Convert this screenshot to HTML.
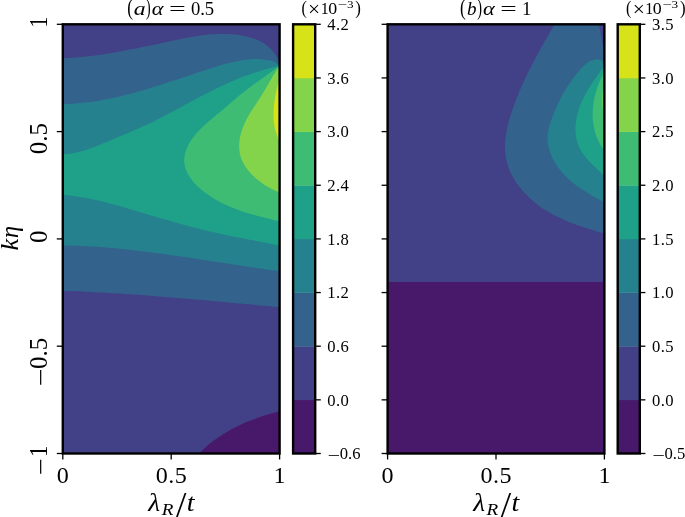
<!DOCTYPE html>
<html><head><meta charset="utf-8"><title>contour</title>
<style>html,body{margin:0;padding:0;background:#fff}svg{display:block}</style>
</head><body>
<svg width="685" height="517" viewBox="0 0 685 517">
<defs>
<clipPath id="cl"><rect x="62.80" y="24.30" width="216.80" height="429.20"/></clipPath>
<clipPath id="cr"><rect x="387.60" y="24.30" width="216.80" height="429.20"/></clipPath>
</defs>
<rect width="685" height="517" fill="#fff"/>
<g clip-path="url(#cl)">
<rect x="62.80" y="24.30" width="216.80" height="429.20" fill="#424086"/>
<path d="M199.00 453.50C199.79 452.73 202.14 450.39 203.76 448.90 C205.38 447.42 207.05 445.97 208.74 444.58 C210.43 443.18 212.16 441.82 213.92 440.51 C215.68 439.20 217.47 437.93 219.29 436.70 C221.11 435.48 222.96 434.29 224.83 433.15 C226.71 432.00 228.61 430.90 230.53 429.83 C232.45 428.77 234.40 427.74 236.37 426.76 C238.33 425.77 240.32 424.82 242.33 423.91 C244.33 423.00 246.36 422.12 248.40 421.29 C250.44 420.45 252.49 419.65 254.56 418.88 C256.62 418.11 258.71 417.38 260.80 416.69 C262.88 415.99 264.99 415.33 267.09 414.70 C269.20 414.06 271.31 413.47 273.43 412.90 C275.55 412.34 278.74 411.57 279.80 411.30L279.80 453.50Z" fill="#48186a"/>
<path d="M62.80 58.20C63.85 58.15 66.99 58.02 69.08 57.90 C71.17 57.78 73.26 57.63 75.35 57.47 C77.44 57.31 79.52 57.13 81.61 56.93 C83.69 56.73 85.78 56.52 87.86 56.28 C89.95 56.05 92.03 55.80 94.11 55.53 C96.19 55.27 98.27 54.98 100.34 54.69 C102.42 54.39 104.50 54.08 106.57 53.76 C108.65 53.44 110.72 53.10 112.79 52.76 C114.87 52.41 116.94 52.05 119.00 51.68 C121.07 51.31 123.14 50.94 125.21 50.55 C127.27 50.16 129.34 49.76 131.40 49.36 C133.46 48.96 135.53 48.55 137.59 48.13 C139.65 47.71 141.71 47.29 143.76 46.86 C145.82 46.43 147.88 46.00 149.93 45.56 C151.98 45.12 154.04 44.68 156.09 44.24 C158.14 43.80 160.19 43.35 162.24 42.91 C164.28 42.46 166.33 42.01 168.38 41.57 C170.42 41.12 172.46 40.67 174.51 40.24 C176.55 39.81 178.60 39.37 180.64 38.96 C182.69 38.54 184.73 38.14 186.79 37.75 C188.84 37.37 190.89 37.00 192.94 36.66 C195.00 36.32 197.06 35.99 199.13 35.70 C201.19 35.42 203.26 35.15 205.34 34.93 C207.42 34.70 209.50 34.50 211.59 34.35 C213.68 34.20 215.78 34.09 217.89 34.02 C220.00 33.95 222.11 33.93 224.24 33.96 C226.37 33.99 228.51 34.06 230.65 34.20 C232.79 34.34 234.95 34.53 237.09 34.79 C239.22 35.06 241.36 35.38 243.46 35.79 C245.55 36.20 247.64 36.68 249.66 37.26 C251.69 37.83 253.68 38.49 255.60 39.25 C257.52 40.02 259.40 40.87 261.18 41.84 C262.97 42.81 264.69 43.88 266.31 45.08 C267.92 46.27 269.47 47.58 270.88 49.03 C272.29 50.47 273.61 52.04 274.77 53.74 C275.92 55.44 276.97 57.26 277.81 59.22 C278.64 61.18 279.47 64.45 279.80 65.50L279.80 307.20C278.77 307.11 275.67 306.83 273.61 306.64 C271.54 306.45 269.48 306.26 267.42 306.08 C265.35 305.89 263.29 305.70 261.23 305.51 C259.16 305.32 257.10 305.13 255.03 304.94 C252.97 304.75 250.91 304.55 248.84 304.36 C246.78 304.17 244.71 303.98 242.65 303.79 C240.59 303.60 238.52 303.41 236.46 303.21 C234.39 303.02 232.33 302.83 230.26 302.64 C228.20 302.45 226.14 302.26 224.07 302.07 C222.01 301.88 219.94 301.69 217.88 301.50 C215.81 301.31 213.75 301.12 211.68 300.93 C209.62 300.74 207.55 300.56 205.49 300.37 C203.42 300.19 201.36 300.00 199.29 299.82 C197.23 299.63 195.16 299.45 193.10 299.27 C191.03 299.08 188.97 298.90 186.90 298.72 C184.84 298.55 182.77 298.37 180.71 298.19 C178.64 298.01 176.57 297.84 174.51 297.67 C172.44 297.49 170.38 297.32 168.31 297.15 C166.24 296.98 164.18 296.82 162.11 296.65 C160.05 296.48 157.98 296.32 155.91 296.16 C153.85 296.00 151.78 295.84 149.71 295.68 C147.65 295.52 145.58 295.37 143.51 295.22 C141.44 295.07 139.38 294.92 137.31 294.77 C135.24 294.62 133.17 294.48 131.11 294.34 C129.04 294.20 126.97 294.06 124.90 293.92 C122.83 293.79 120.77 293.65 118.70 293.52 C116.63 293.39 114.56 293.27 112.49 293.14 C110.42 293.02 108.35 292.90 106.28 292.78 C104.21 292.67 102.15 292.56 100.08 292.45 C98.01 292.34 95.94 292.23 93.87 292.13 C91.80 292.03 89.73 291.93 87.66 291.83 C85.59 291.74 83.51 291.65 81.44 291.56 C79.37 291.48 77.30 291.39 75.23 291.32 C73.16 291.24 71.09 291.16 69.02 291.09 C66.94 291.03 63.84 290.93 62.80 290.90Z" fill="#33638d"/>
<path d="M62.80 104.10C63.86 104.07 67.04 104.00 69.14 103.91 C71.25 103.81 73.35 103.69 75.44 103.54 C77.53 103.39 79.62 103.21 81.69 103.00 C83.77 102.80 85.84 102.56 87.90 102.31 C89.97 102.05 92.03 101.77 94.08 101.46 C96.13 101.16 98.17 100.83 100.21 100.48 C102.25 100.12 104.29 99.75 106.32 99.36 C108.35 98.97 110.37 98.55 112.39 98.12 C114.41 97.69 116.43 97.24 118.44 96.77 C120.45 96.30 122.46 95.82 124.47 95.32 C126.47 94.82 128.47 94.30 130.47 93.77 C132.47 93.24 134.46 92.69 136.45 92.14 C138.45 91.58 140.44 91.01 142.42 90.43 C144.41 89.85 146.40 89.26 148.38 88.66 C150.37 88.06 152.35 87.45 154.33 86.83 C156.31 86.21 158.29 85.58 160.27 84.95 C162.25 84.32 164.23 83.68 166.21 83.03 C168.18 82.39 170.16 81.74 172.14 81.09 C174.12 80.44 176.10 79.78 178.08 79.13 C180.06 78.47 182.04 77.81 184.02 77.15 C186.00 76.49 187.99 75.83 189.97 75.18 C191.96 74.52 193.94 73.86 195.93 73.21 C197.92 72.55 199.91 71.90 201.91 71.26 C203.90 70.61 205.90 69.97 207.90 69.33 C209.90 68.70 211.90 68.07 213.91 67.45 C215.91 66.83 217.93 66.20 219.94 65.61 C221.95 65.01 223.97 64.41 225.99 63.86 C228.01 63.30 230.04 62.76 232.07 62.27 C234.09 61.78 236.12 61.32 238.16 60.92 C240.19 60.52 242.22 60.16 244.26 59.88 C246.30 59.60 248.34 59.37 250.38 59.23 C252.42 59.09 254.46 59.02 256.50 59.05 C258.55 59.07 260.59 59.18 262.63 59.40 C264.68 59.62 266.75 59.90 268.77 60.36 C270.79 60.82 272.91 61.29 274.74 62.15 C276.58 63.01 278.96 64.94 279.80 65.50L279.80 271.00C278.77 270.87 275.67 270.47 273.61 270.20 C271.55 269.93 269.49 269.66 267.42 269.38 C265.36 269.10 263.30 268.82 261.24 268.53 C259.18 268.24 257.12 267.95 255.05 267.65 C252.99 267.36 250.93 267.06 248.87 266.76 C246.81 266.46 244.75 266.16 242.69 265.85 C240.63 265.54 238.57 265.23 236.51 264.92 C234.45 264.61 232.39 264.30 230.33 263.99 C228.27 263.67 226.21 263.36 224.15 263.04 C222.09 262.73 220.03 262.41 217.97 262.09 C215.91 261.78 213.85 261.46 211.79 261.14 C209.73 260.82 207.67 260.51 205.61 260.19 C203.55 259.87 201.49 259.56 199.43 259.24 C197.36 258.93 195.30 258.61 193.24 258.30 C191.18 257.99 189.12 257.68 187.06 257.37 C185.00 257.06 182.94 256.76 180.88 256.45 C178.81 256.15 176.75 255.85 174.69 255.55 C172.63 255.25 170.56 254.96 168.50 254.67 C166.44 254.38 164.37 254.09 162.31 253.80 C160.25 253.52 158.18 253.24 156.12 252.97 C154.05 252.69 151.99 252.42 149.92 252.16 C147.86 251.89 145.79 251.63 143.73 251.38 C141.66 251.12 139.59 250.87 137.53 250.63 C135.46 250.39 133.39 250.15 131.32 249.92 C129.25 249.69 127.18 249.47 125.11 249.25 C123.04 249.04 120.97 248.83 118.90 248.63 C116.83 248.43 114.76 248.23 112.69 248.05 C110.62 247.86 108.54 247.68 106.47 247.51 C104.40 247.35 102.32 247.18 100.25 247.03 C98.17 246.88 96.09 246.74 94.02 246.61 C91.94 246.48 89.86 246.35 87.78 246.24 C85.71 246.13 83.63 246.02 81.55 245.93 C79.47 245.84 77.39 245.76 75.30 245.69 C73.22 245.62 71.14 245.56 69.05 245.51 C66.97 245.46 63.84 245.42 62.80 245.40Z" fill="#26818e"/>
<path d="M62.80 154.10C63.85 154.02 67.01 153.88 69.08 153.64 C71.15 153.40 73.19 153.06 75.22 152.66 C77.24 152.27 79.24 151.78 81.22 151.25 C83.21 150.72 85.17 150.12 87.13 149.49 C89.08 148.85 91.02 148.16 92.95 147.44 C94.88 146.73 96.80 145.97 98.72 145.20 C100.63 144.43 102.54 143.64 104.45 142.84 C106.36 142.04 108.26 141.23 110.16 140.42 C112.07 139.61 113.97 138.79 115.87 137.98 C117.78 137.17 119.68 136.35 121.59 135.55 C123.50 134.74 125.41 133.95 127.32 133.15 C129.23 132.36 131.15 131.58 133.05 130.77 C134.96 129.97 136.86 129.17 138.76 128.34 C140.65 127.51 142.53 126.66 144.41 125.80 C146.29 124.93 148.15 124.05 150.01 123.15 C151.87 122.26 153.73 121.34 155.58 120.42 C157.42 119.50 159.27 118.56 161.10 117.61 C162.94 116.67 164.77 115.71 166.60 114.75 C168.43 113.79 170.25 112.81 172.08 111.84 C173.90 110.86 175.72 109.88 177.54 108.90 C179.36 107.92 181.18 106.93 182.99 105.94 C184.81 104.96 186.63 103.97 188.45 102.98 C190.26 102.00 192.08 101.01 193.90 100.04 C195.72 99.06 197.55 98.08 199.37 97.12 C201.20 96.15 203.03 95.19 204.86 94.24 C206.69 93.28 208.53 92.34 210.37 91.41 C212.22 90.48 214.06 89.56 215.92 88.65 C217.77 87.75 219.63 86.85 221.50 85.98 C223.37 85.11 225.25 84.24 227.13 83.40 C229.02 82.56 230.91 81.74 232.81 80.94 C234.71 80.13 236.62 79.35 238.54 78.58 C240.46 77.82 242.39 77.08 244.32 76.36 C246.25 75.63 248.20 74.93 250.15 74.25 C252.10 73.58 254.05 72.92 256.02 72.29 C257.98 71.66 259.96 71.05 261.94 70.47 C263.92 69.88 265.91 69.32 267.89 68.76 C269.88 68.21 271.87 67.67 273.86 67.13 C275.84 66.59 278.81 65.77 279.80 65.50L279.80 245.60C278.79 245.40 275.74 244.82 273.71 244.42 C271.68 244.03 269.65 243.64 267.62 243.25 C265.59 242.86 263.56 242.47 261.53 242.07 C259.51 241.68 257.48 241.28 255.45 240.89 C253.42 240.49 251.39 240.09 249.36 239.69 C247.34 239.29 245.31 238.88 243.28 238.48 C241.26 238.07 239.23 237.66 237.21 237.25 C235.18 236.83 233.16 236.41 231.13 235.99 C229.11 235.57 227.09 235.14 225.07 234.71 C223.05 234.27 221.03 233.84 219.01 233.39 C216.99 232.95 214.98 232.50 212.96 232.04 C210.95 231.58 208.93 231.12 206.92 230.65 C204.91 230.18 202.90 229.70 200.89 229.22 C198.88 228.73 196.88 228.24 194.87 227.73 C192.87 227.23 190.86 226.72 188.86 226.20 C186.86 225.68 184.87 225.15 182.87 224.61 C180.87 224.07 178.88 223.52 176.89 222.97 C174.90 222.41 172.91 221.85 170.92 221.28 C168.93 220.71 166.94 220.14 164.95 219.56 C162.97 218.98 160.98 218.40 159.00 217.81 C157.01 217.23 155.03 216.64 153.05 216.05 C151.06 215.46 149.08 214.87 147.10 214.27 C145.11 213.68 143.13 213.09 141.15 212.50 C139.17 211.91 137.19 211.31 135.20 210.73 C133.22 210.14 131.24 209.55 129.25 208.97 C127.27 208.39 125.29 207.81 123.30 207.24 C121.32 206.67 119.33 206.10 117.34 205.54 C115.35 204.98 113.37 204.43 111.37 203.89 C109.38 203.36 107.39 202.83 105.39 202.32 C103.39 201.81 101.40 201.31 99.39 200.84 C97.39 200.36 95.38 199.90 93.37 199.47 C91.36 199.03 89.34 198.62 87.32 198.23 C85.30 197.84 83.28 197.48 81.25 197.14 C79.22 196.81 77.18 196.50 75.14 196.23 C73.09 195.96 71.05 195.71 68.99 195.51 C66.93 195.30 63.83 195.08 62.80 195.00Z" fill="#1fa088"/>
<path d="M279.80 65.50C278.98 66.11 276.52 67.95 274.87 69.16 C273.23 70.38 271.57 71.58 269.91 72.78 C268.25 73.99 266.59 75.19 264.92 76.39 C263.26 77.59 261.60 78.79 259.93 79.99 C258.27 81.20 256.61 82.40 254.96 83.62 C253.30 84.83 251.65 86.05 250.01 87.28 C248.37 88.51 246.73 89.75 245.10 91.00 C243.48 92.25 241.86 93.51 240.26 94.80 C238.66 96.08 237.07 97.37 235.50 98.69 C233.93 100.00 232.38 101.35 230.83 102.69 C229.28 104.03 227.75 105.40 226.20 106.74 C224.65 108.07 223.10 109.40 221.54 110.72 C219.98 112.03 218.41 113.32 216.84 114.62 C215.27 115.92 213.70 117.21 212.14 118.52 C210.58 119.83 209.02 121.14 207.49 122.48 C205.96 123.83 204.43 125.19 202.95 126.61 C201.46 128.02 199.98 129.47 198.57 130.98 C197.15 132.49 195.76 134.05 194.46 135.68 C193.16 137.31 191.91 139.01 190.78 140.77 C189.66 142.53 188.60 144.37 187.72 146.24 C186.83 148.11 186.05 150.05 185.48 151.99 C184.91 153.93 184.48 155.92 184.30 157.89 C184.13 159.86 184.15 161.86 184.41 163.82 C184.66 165.77 185.16 167.73 185.83 169.61 C186.51 171.49 187.42 173.33 188.45 175.09 C189.48 176.86 190.72 178.56 192.02 180.19 C193.31 181.82 194.77 183.39 196.23 184.89 C197.70 186.39 199.24 187.82 200.81 189.18 C202.37 190.55 203.98 191.85 205.62 193.09 C207.26 194.33 208.94 195.50 210.65 196.62 C212.36 197.75 214.11 198.81 215.88 199.83 C217.65 200.85 219.45 201.81 221.27 202.73 C223.09 203.65 224.95 204.52 226.82 205.36 C228.68 206.19 230.58 206.98 232.49 207.74 C234.39 208.50 236.32 209.21 238.26 209.90 C240.20 210.59 242.16 211.25 244.12 211.88 C246.09 212.52 248.06 213.12 250.04 213.71 C252.02 214.29 254.02 214.85 256.00 215.40 C257.99 215.95 259.99 216.48 261.98 217.00 C263.97 217.52 265.97 218.03 267.96 218.53 C269.94 219.03 271.93 219.52 273.90 220.02 C275.88 220.51 278.82 221.25 279.80 221.50Z" fill="#3fbc73"/>
<path d="M279.80 65.50C279.21 66.37 277.42 68.95 276.28 70.70 C275.14 72.46 274.04 74.25 272.96 76.04 C271.87 77.83 270.82 79.65 269.76 81.45 C268.71 83.26 267.67 85.08 266.62 86.88 C265.56 88.68 264.51 90.48 263.44 92.26 C262.37 94.04 261.28 95.81 260.18 97.57 C259.08 99.33 257.97 101.08 256.84 102.82 C255.71 104.56 254.55 106.29 253.42 108.03 C252.28 109.78 251.13 111.51 250.03 113.29 C248.94 115.07 247.86 116.87 246.87 118.73 C245.87 120.59 244.93 122.50 244.09 124.45 C243.25 126.40 242.48 128.40 241.83 130.42 C241.18 132.43 240.62 134.49 240.19 136.54 C239.77 138.59 239.45 140.67 239.30 142.72 C239.14 144.77 239.10 146.83 239.24 148.85 C239.38 150.86 239.66 152.87 240.13 154.83 C240.60 156.78 241.25 158.70 242.05 160.56 C242.86 162.42 243.85 164.24 244.95 166.00 C246.06 167.75 247.32 169.46 248.68 171.09 C250.03 172.73 251.52 174.31 253.07 175.81 C254.62 177.32 256.28 178.76 257.98 180.12 C259.68 181.48 261.46 182.78 263.26 183.98 C265.06 185.19 266.91 186.32 268.76 187.36 C270.60 188.39 272.48 189.35 274.32 190.21 C276.16 191.06 278.89 192.12 279.80 192.50Z" fill="#84d44b"/>
<path d="M279.80 77.00C279.55 77.94 278.79 80.75 278.31 82.67 C277.82 84.58 277.34 86.53 276.90 88.48 C276.46 90.44 276.03 92.42 275.65 94.41 C275.27 96.40 274.92 98.41 274.62 100.41 C274.33 102.42 274.08 104.44 273.90 106.46 C273.72 108.47 273.59 110.49 273.54 112.50 C273.49 114.51 273.51 116.52 273.62 118.52 C273.74 120.51 273.93 122.50 274.22 124.46 C274.52 126.42 274.90 128.37 275.40 130.29 C275.90 132.22 276.50 134.12 277.24 135.99 C277.97 137.85 279.37 140.58 279.80 141.50Z" fill="#d8e219"/>
</g>
<g clip-path="url(#cr)">
<rect x="387.60" y="24.30" width="216.80" height="429.20" fill="#424086"/>
<path d="M387.60 281.90 H605.40 V454.50 H387.60 Z" fill="#48186a"/>
<path d="M554.60 24.30C554.07 25.21 552.46 27.95 551.40 29.78 C550.34 31.60 549.28 33.41 548.23 35.23 C547.18 37.04 546.14 38.86 545.11 40.67 C544.08 42.48 543.05 44.29 542.04 46.11 C541.02 47.92 540.02 49.73 539.02 51.55 C538.02 53.37 537.04 55.19 536.06 57.01 C535.08 58.83 534.12 60.66 533.17 62.49 C532.21 64.32 531.27 66.16 530.34 68.01 C529.41 69.85 528.49 71.70 527.59 73.56 C526.69 75.43 525.80 77.29 524.92 79.17 C524.04 81.06 523.18 82.94 522.33 84.85 C521.49 86.75 520.65 88.66 519.84 90.59 C519.02 92.51 518.22 94.45 517.44 96.41 C516.66 98.36 515.89 100.33 515.14 102.32 C514.39 104.30 513.66 106.31 512.95 108.32 C512.24 110.34 511.55 112.37 510.91 114.41 C510.26 116.46 509.64 118.51 509.07 120.57 C508.51 122.62 507.97 124.69 507.51 126.76 C507.04 128.82 506.62 130.90 506.27 132.96 C505.93 135.03 505.63 137.10 505.43 139.16 C505.22 141.22 505.08 143.27 505.04 145.32 C504.99 147.36 505.02 149.40 505.16 151.42 C505.30 153.44 505.52 155.45 505.86 157.44 C506.19 159.43 506.64 161.40 507.19 163.35 C507.74 165.30 508.40 167.23 509.16 169.13 C509.91 171.04 510.77 172.91 511.71 174.76 C512.65 176.60 513.69 178.42 514.80 180.20 C515.90 181.97 517.10 183.72 518.35 185.42 C519.61 187.12 520.94 188.79 522.33 190.40 C523.71 192.02 525.17 193.59 526.66 195.11 C528.16 196.64 529.71 198.11 531.30 199.53 C532.89 200.95 534.52 202.32 536.19 203.63 C537.85 204.93 539.55 206.18 541.27 207.38 C542.99 208.58 544.75 209.72 546.53 210.82 C548.31 211.91 550.11 212.96 551.94 213.96 C553.77 214.96 555.62 215.92 557.49 216.83 C559.36 217.75 561.26 218.63 563.16 219.47 C565.07 220.31 567.00 221.12 568.93 221.90 C570.87 222.67 572.82 223.42 574.78 224.14 C576.75 224.86 578.72 225.54 580.70 226.22 C582.68 226.89 584.67 227.53 586.65 228.17 C588.64 228.80 590.64 229.41 592.64 230.01 C594.63 230.62 596.63 231.20 598.62 231.78 C600.62 232.36 603.60 233.21 604.60 233.50L604.60 52.00C604.48 51.59 604.09 50.36 603.86 49.54 C603.62 48.71 603.41 47.88 603.21 47.05 C603.00 46.22 602.82 45.38 602.64 44.54 C602.45 43.71 602.29 42.86 602.12 42.02 C601.96 41.18 601.81 40.33 601.66 39.49 C601.50 38.64 601.36 37.80 601.21 36.95 C601.07 36.10 600.93 35.25 600.78 34.41 C600.63 33.56 600.49 32.71 600.34 31.87 C600.19 31.02 600.04 30.17 599.87 29.33 C599.71 28.49 599.55 27.65 599.37 26.81 C599.19 25.97 598.89 24.72 598.80 24.30Z" fill="#33638d"/>
<path d="M604.60 63.00C603.69 62.42 601.00 60.05 599.16 59.50 C597.31 58.94 595.38 59.21 593.53 59.68 C591.69 60.15 589.83 61.23 588.09 62.35 C586.36 63.47 584.71 64.92 583.14 66.40 C581.57 67.89 580.09 69.58 578.66 71.26 C577.24 72.94 575.89 74.76 574.57 76.50 C573.26 78.25 572.00 80.00 570.77 81.73 C569.55 83.46 568.37 85.15 567.24 86.88 C566.11 88.61 565.02 90.33 563.99 92.11 C562.96 93.89 561.99 95.71 561.04 97.56 C560.09 99.42 559.20 101.32 558.31 103.24 C557.42 105.15 556.54 107.09 555.68 109.05 C554.83 111.00 553.98 112.98 553.19 114.97 C552.40 116.96 551.63 118.98 550.95 121.01 C550.27 123.04 549.61 125.09 549.11 127.14 C548.60 129.20 548.17 131.27 547.91 133.35 C547.66 135.43 547.52 137.52 547.59 139.60 C547.66 141.68 547.91 143.78 548.31 145.84 C548.71 147.91 549.29 149.98 549.97 151.99 C550.66 154.00 551.50 155.99 552.42 157.91 C553.35 159.82 554.39 161.69 555.50 163.49 C556.61 165.29 557.82 167.02 559.09 168.70 C560.36 170.37 561.72 171.98 563.14 173.55 C564.55 175.11 566.04 176.61 567.57 178.06 C569.11 179.51 570.71 180.91 572.34 182.27 C573.98 183.62 575.67 184.93 577.39 186.19 C579.10 187.46 580.86 188.68 582.64 189.86 C584.42 191.05 586.23 192.19 588.05 193.30 C589.87 194.41 591.71 195.49 593.55 196.54 C595.39 197.59 597.25 198.60 599.09 199.60 C600.93 200.59 603.68 202.02 604.60 202.50Z" fill="#26818e"/>
<path d="M604.60 65.50C603.99 66.35 602.15 68.89 600.92 70.61 C599.69 72.32 598.44 74.05 597.21 75.80 C595.98 77.55 594.74 79.31 593.54 81.09 C592.34 82.87 591.15 84.68 590.00 86.50 C588.85 88.33 587.73 90.17 586.66 92.04 C585.60 93.91 584.57 95.81 583.61 97.73 C582.65 99.66 581.74 101.61 580.92 103.59 C580.10 105.57 579.34 107.58 578.68 109.63 C578.01 111.67 577.43 113.76 576.95 115.86 C576.48 117.97 576.09 120.12 575.83 122.26 C575.58 124.40 575.42 126.57 575.41 128.70 C575.40 130.84 575.50 132.99 575.76 135.08 C576.02 137.17 576.42 139.25 576.98 141.26 C577.54 143.27 578.27 145.24 579.15 147.14 C580.03 149.03 581.10 150.86 582.26 152.63 C583.43 154.41 584.75 156.12 586.12 157.79 C587.50 159.46 589.00 161.07 590.51 162.66 C592.02 164.24 593.62 165.77 595.20 167.28 C596.77 168.79 598.40 170.26 599.97 171.71 C601.53 173.16 603.83 175.29 604.60 176.00Z" fill="#1fa088"/>
<path d="M604.60 72.00C604.05 73.01 602.34 75.99 601.33 78.06 C600.31 80.13 599.37 82.26 598.51 84.43 C597.66 86.60 596.88 88.81 596.20 91.05 C595.52 93.29 594.92 95.57 594.43 97.86 C593.93 100.15 593.53 102.47 593.24 104.78 C592.95 107.10 592.75 109.44 592.67 111.76 C592.59 114.08 592.62 116.42 592.77 118.72 C592.92 121.03 593.18 123.33 593.57 125.60 C593.96 127.87 594.46 130.13 595.11 132.34 C595.75 134.55 596.52 136.73 597.43 138.86 C598.35 140.99 599.39 143.08 600.58 145.10 C601.78 147.13 603.93 150.02 604.60 151.00Z" fill="#3fbc73"/>
<path d="M604.60 84.00C604.48 84.49 604.08 85.95 603.86 86.94 C603.63 87.93 603.44 88.92 603.26 89.92 C603.09 90.91 602.94 91.92 602.82 92.92 C602.69 93.92 602.59 94.93 602.52 95.94 C602.44 96.95 602.39 97.97 602.37 98.98 C602.34 99.99 602.34 101.01 602.37 102.02 C602.39 103.03 602.44 104.05 602.51 105.06 C602.59 106.07 602.69 107.08 602.81 108.08 C602.94 109.08 603.08 110.09 603.26 111.08 C603.43 112.08 603.63 113.07 603.85 114.06 C604.08 115.05 604.48 116.51 604.60 117.00Z" fill="#84d44b"/>
</g>
<rect x="293.10" y="399.85" width="22.10" height="53.95" fill="#48186a"/>
<rect x="293.10" y="346.20" width="22.10" height="53.95" fill="#424086"/>
<rect x="293.10" y="292.55" width="22.10" height="53.95" fill="#33638d"/>
<rect x="293.10" y="238.90" width="22.10" height="53.95" fill="#26818e"/>
<rect x="293.10" y="185.25" width="22.10" height="53.95" fill="#1fa088"/>
<rect x="293.10" y="131.60" width="22.10" height="53.95" fill="#3fbc73"/>
<rect x="293.10" y="77.95" width="22.10" height="53.95" fill="#84d44b"/>
<rect x="293.10" y="24.30" width="22.10" height="53.95" fill="#d8e219"/>
<path d="M315.20 453.50H320.80" stroke="#000" stroke-width="1.30"/>
<path d="M315.20 399.85H320.80" stroke="#000" stroke-width="1.30"/>
<path d="M315.20 346.20H320.80" stroke="#000" stroke-width="1.30"/>
<path d="M315.20 292.55H320.80" stroke="#000" stroke-width="1.30"/>
<path d="M315.20 238.90H320.80" stroke="#000" stroke-width="1.30"/>
<path d="M315.20 185.25H320.80" stroke="#000" stroke-width="1.30"/>
<path d="M315.20 131.60H320.80" stroke="#000" stroke-width="1.30"/>
<path d="M315.20 77.95H320.80" stroke="#000" stroke-width="1.30"/>
<path d="M315.20 24.30H320.80" stroke="#000" stroke-width="1.30"/>
<rect x="293.10" y="24.30" width="22.10" height="429.20" fill="none" stroke="#000" stroke-width="2.40"/>
<rect x="617.70" y="399.85" width="22.10" height="53.95" fill="#48186a"/>
<rect x="617.70" y="346.20" width="22.10" height="53.95" fill="#424086"/>
<rect x="617.70" y="292.55" width="22.10" height="53.95" fill="#33638d"/>
<rect x="617.70" y="238.90" width="22.10" height="53.95" fill="#26818e"/>
<rect x="617.70" y="185.25" width="22.10" height="53.95" fill="#1fa088"/>
<rect x="617.70" y="131.60" width="22.10" height="53.95" fill="#3fbc73"/>
<rect x="617.70" y="77.95" width="22.10" height="53.95" fill="#84d44b"/>
<rect x="617.70" y="24.30" width="22.10" height="53.95" fill="#d8e219"/>
<path d="M639.80 453.50H645.40" stroke="#000" stroke-width="1.30"/>
<path d="M639.80 399.85H645.40" stroke="#000" stroke-width="1.30"/>
<path d="M639.80 346.20H645.40" stroke="#000" stroke-width="1.30"/>
<path d="M639.80 292.55H645.40" stroke="#000" stroke-width="1.30"/>
<path d="M639.80 238.90H645.40" stroke="#000" stroke-width="1.30"/>
<path d="M639.80 185.25H645.40" stroke="#000" stroke-width="1.30"/>
<path d="M639.80 131.60H645.40" stroke="#000" stroke-width="1.30"/>
<path d="M639.80 77.95H645.40" stroke="#000" stroke-width="1.30"/>
<path d="M639.80 24.30H645.40" stroke="#000" stroke-width="1.30"/>
<rect x="617.70" y="24.30" width="22.10" height="429.20" fill="none" stroke="#000" stroke-width="2.40"/>
<path d="M56.80 24.30H62.80" stroke="#000" stroke-width="1.30"/>
<path d="M56.80 131.60H62.80" stroke="#000" stroke-width="1.30"/>
<path d="M56.80 238.90H62.80" stroke="#000" stroke-width="1.30"/>
<path d="M56.80 346.20H62.80" stroke="#000" stroke-width="1.30"/>
<path d="M56.80 453.50H62.80" stroke="#000" stroke-width="1.30"/>
<path d="M62.80 453.50V459.50" stroke="#000" stroke-width="1.30"/>
<path d="M171.20 453.50V459.50" stroke="#000" stroke-width="1.30"/>
<path d="M279.60 453.50V459.50" stroke="#000" stroke-width="1.30"/>
<rect x="62.80" y="24.30" width="216.80" height="429.20" fill="none" stroke="#000" stroke-width="2.40"/>
<path d="M381.60 24.30H387.60" stroke="#000" stroke-width="1.30"/>
<path d="M381.60 77.95H387.60" stroke="#000" stroke-width="1.30"/>
<path d="M381.60 131.60H387.60" stroke="#000" stroke-width="1.30"/>
<path d="M381.60 185.25H387.60" stroke="#000" stroke-width="1.30"/>
<path d="M381.60 238.90H387.60" stroke="#000" stroke-width="1.30"/>
<path d="M381.60 292.55H387.60" stroke="#000" stroke-width="1.30"/>
<path d="M381.60 346.20H387.60" stroke="#000" stroke-width="1.30"/>
<path d="M381.60 399.85H387.60" stroke="#000" stroke-width="1.30"/>
<path d="M381.60 453.50H387.60" stroke="#000" stroke-width="1.30"/>
<path d="M387.60 453.50V459.50" stroke="#000" stroke-width="1.30"/>
<path d="M496.00 453.50V459.50" stroke="#000" stroke-width="1.30"/>
<path d="M604.40 453.50V459.50" stroke="#000" stroke-width="1.30"/>
<rect x="387.60" y="24.30" width="216.80" height="429.20" fill="none" stroke="#000" stroke-width="2.40"/>
<g font-family="'Liberation Serif', 'DejaVu Serif', serif" fill="#000">
<text x="63.05" y="483.0" font-size="24.1" letter-spacing="0.5" text-anchor="middle">0</text>
<text x="171.45" y="483.0" font-size="24.1" letter-spacing="0.5" text-anchor="middle">0.5</text>
<text x="279.85" y="483.0" font-size="24.1" letter-spacing="0.5" text-anchor="middle">1</text>
<text y="510.8"><tspan x="148.38" font-size="24.20" font-style="italic" textLength="11.85" lengthAdjust="spacingAndGlyphs">λ</tspan><tspan x="161.80" font-size="16.60" y="514.80" font-style="italic" textLength="11.71" lengthAdjust="spacingAndGlyphs">R</tspan><tspan x="176.00" font-size="35.10" y="516.90" textLength="10.41" lengthAdjust="spacingAndGlyphs">/</tspan><tspan x="186.84" font-size="26.20" y="510.90" font-style="italic" textLength="7.78" lengthAdjust="spacingAndGlyphs">t</tspan></text>
<text x="387.85" y="483.0" font-size="24.1" letter-spacing="0.5" text-anchor="middle">0</text>
<text x="496.25" y="483.0" font-size="24.1" letter-spacing="0.5" text-anchor="middle">0.5</text>
<text x="604.65" y="483.0" font-size="24.1" letter-spacing="0.5" text-anchor="middle">1</text>
<text y="510.8"><tspan x="473.18" font-size="24.20" font-style="italic" textLength="11.85" lengthAdjust="spacingAndGlyphs">λ</tspan><tspan x="486.60" font-size="16.60" y="514.80" font-style="italic" textLength="11.71" lengthAdjust="spacingAndGlyphs">R</tspan><tspan x="500.80" font-size="35.10" y="516.90" textLength="10.41" lengthAdjust="spacingAndGlyphs">/</tspan><tspan x="511.64" font-size="26.20" y="510.90" font-style="italic" textLength="7.78" lengthAdjust="spacingAndGlyphs">t</tspan></text>
<text transform="translate(47.00 64.30) rotate(-90)" y="0"><tspan x="36.48" font-size="25.00" textLength="11.21" lengthAdjust="spacingAndGlyphs">1</tspan></text>
<text transform="translate(47.00 171.60) rotate(-90)" y="0"><tspan x="17.25" font-size="25.00">0.5</tspan></text>
<text transform="translate(47.00 278.90) rotate(-90)" y="0"><tspan x="35.90" font-size="25.00">0</tspan></text>
<text transform="translate(47.00 386.20) rotate(-90)" y="0"><tspan x="-0.20" font-size="25.00" y="1.70" textLength="18.07" lengthAdjust="spacingAndGlyphs">−</tspan><tspan x="17.25" font-size="25.00" y="0.00">0.5</tspan></text>
<text transform="translate(47.00 493.50) rotate(-90)" y="0"><tspan x="18.29" font-size="25.00" y="1.70" textLength="16.98" lengthAdjust="spacingAndGlyphs">−</tspan><tspan x="36.47" font-size="25.00" y="0.00" textLength="11.29" lengthAdjust="spacingAndGlyphs">1</tspan></text>
<text transform="translate(17.8 260.00) rotate(-90)" y="0"><tspan x="9.40" font-size="25.00" font-style="italic" textLength="11.77" lengthAdjust="spacingAndGlyphs">k</tspan><tspan x="21.82" font-size="25.00" font-style="italic" textLength="12.40" lengthAdjust="spacingAndGlyphs">η</tspan></text>
<text y="14.6"><tspan x="127.22" font-size="22.50" y="14.80" textLength="5.75" lengthAdjust="spacingAndGlyphs">(</tspan><tspan x="133.89" font-size="18.60" y="14.60" font-style="italic" textLength="11.86" lengthAdjust="spacingAndGlyphs">a</tspan><tspan x="145.88" font-size="22.50" y="14.80" textLength="4.61" lengthAdjust="spacingAndGlyphs">)</tspan><tspan x="151.73" font-size="18.60" y="14.60" font-style="italic" textLength="11.73" lengthAdjust="spacingAndGlyphs">α</tspan><tspan x="168.92" font-size="18.60" textLength="16.74" lengthAdjust="spacingAndGlyphs">=</tspan><tspan x="190.90" font-size="18.60">0.5</tspan></text>
<text y="14.6"><tspan x="460.12" font-size="22.50" y="14.80" textLength="5.75" lengthAdjust="spacingAndGlyphs">(</tspan><tspan x="467.04" font-size="18.60" y="14.60" font-style="italic" textLength="9.53" lengthAdjust="spacingAndGlyphs">b</tspan><tspan x="477.27" font-size="22.50" y="14.80" textLength="4.74" lengthAdjust="spacingAndGlyphs">)</tspan><tspan x="482.93" font-size="18.60" y="14.60" font-style="italic" textLength="11.73" lengthAdjust="spacingAndGlyphs">α</tspan><tspan x="500.34" font-size="18.60" textLength="16.50" lengthAdjust="spacingAndGlyphs">=</tspan><tspan x="522.00" font-size="18.60" textLength="9.43" lengthAdjust="spacingAndGlyphs">1</tspan></text>
<text y="459.25"><tspan x="327.59" font-size="16.60" y="460.55" textLength="12.49" lengthAdjust="spacingAndGlyphs">−</tspan><tspan x="339.80" font-size="16.60" y="459.25">0.6</tspan></text>
<text x="327.20" y="405.60" font-size="16.6" letter-spacing="0.45">0.0</text>
<text x="327.20" y="351.95" font-size="16.6" letter-spacing="0.45">0.6</text>
<text x="327.20" y="298.30" font-size="16.6" letter-spacing="0.45">1.2</text>
<text x="327.20" y="244.65" font-size="16.6" letter-spacing="0.45">1.8</text>
<text x="327.20" y="191.00" font-size="16.6" letter-spacing="0.45">2.4</text>
<text x="327.20" y="137.35" font-size="16.6" letter-spacing="0.45">3.0</text>
<text x="327.20" y="83.70" font-size="16.6" letter-spacing="0.45">3.6</text>
<text x="327.20" y="30.05" font-size="16.6" letter-spacing="0.45">4.2</text>
<text y="459.25"><tspan x="652.29" font-size="16.60" y="460.55" textLength="12.49" lengthAdjust="spacingAndGlyphs">−</tspan><tspan x="664.50" font-size="16.60" y="459.25">0.5</tspan></text>
<text x="651.90" y="405.60" font-size="16.6" letter-spacing="0.45">0.0</text>
<text x="651.90" y="351.95" font-size="16.6" letter-spacing="0.45">0.5</text>
<text x="651.90" y="298.30" font-size="16.6" letter-spacing="0.45">1.0</text>
<text x="651.90" y="244.65" font-size="16.6" letter-spacing="0.45">1.5</text>
<text x="651.90" y="191.00" font-size="16.6" letter-spacing="0.45">2.0</text>
<text x="651.90" y="137.35" font-size="16.6" letter-spacing="0.45">2.5</text>
<text x="651.90" y="83.70" font-size="16.6" letter-spacing="0.45">3.0</text>
<text x="651.90" y="30.05" font-size="16.6" letter-spacing="0.45">3.5</text>
<text y="13.6"><tspan x="301.38" font-size="18.20" y="13.55" textLength="5.35" lengthAdjust="spacingAndGlyphs">(</tspan><tspan x="308.08" font-size="20.00" y="16.40" textLength="12.12" lengthAdjust="spacingAndGlyphs">×</tspan><tspan x="320.66" font-size="16.60" y="13.60" textLength="8.00" lengthAdjust="spacingAndGlyphs">1</tspan><tspan x="328.19" font-size="16.60" textLength="8.93" lengthAdjust="spacingAndGlyphs">0</tspan><tspan x="337.57" font-size="11.00" y="8.30" textLength="9.34" lengthAdjust="spacingAndGlyphs">−</tspan><tspan x="346.94" font-size="11.00" y="7.90" textLength="6.59" lengthAdjust="spacingAndGlyphs">3</tspan><tspan x="355.29" font-size="18.20" y="13.55" textLength="5.64" lengthAdjust="spacingAndGlyphs">)</tspan></text>
<text y="13.6"><tspan x="626.08" font-size="18.20" y="13.55" textLength="5.35" lengthAdjust="spacingAndGlyphs">(</tspan><tspan x="632.78" font-size="20.00" y="16.40" textLength="12.12" lengthAdjust="spacingAndGlyphs">×</tspan><tspan x="645.36" font-size="16.60" y="13.60" textLength="8.00" lengthAdjust="spacingAndGlyphs">1</tspan><tspan x="652.89" font-size="16.60" textLength="8.93" lengthAdjust="spacingAndGlyphs">0</tspan><tspan x="662.27" font-size="11.00" y="8.30" textLength="9.34" lengthAdjust="spacingAndGlyphs">−</tspan><tspan x="671.64" font-size="11.00" y="7.90" textLength="6.59" lengthAdjust="spacingAndGlyphs">3</tspan><tspan x="679.99" font-size="18.20" y="13.55" textLength="5.64" lengthAdjust="spacingAndGlyphs">)</tspan></text>
</g>
</svg>
</body></html>
